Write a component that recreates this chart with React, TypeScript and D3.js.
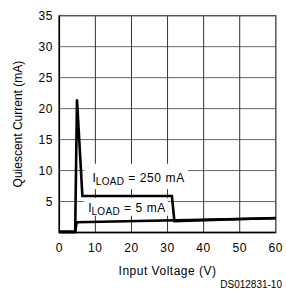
import React, { useEffect, useRef } from 'react';
import * as d3 from 'd3';

// curve data (V, mA)
const load250Volts = [0, 4.4, 4.9, 6.4, 31.2, 31.9, 60];
const load250Amps = [0.1, 0.1, 21.5, 5.9, 5.9, 1.85, 2.35];
const load5Volts = [0, 4.4, 4.8, 60];
const load5Amps = [0.1, 0.1, 1.65, 2.3];

const xTicks = [0, 10, 20, 30, 40, 50, 60];
const yTicks = [5, 10, 15, 20, 25, 30, 35];

const labels = [
  { text: '= 250 mA', x: 9.2, y: 8.2, boxX0: 6.9, boxX1: 35.7, boxY0: 7.0, boxY1: 11.1 },
  { text: '= 5 mA', x: 8.0, y: 3.3, boxX0: 6.9, boxX1: 30.1, boxY0: 2.7, boxY1: 5.6 },
];

const W = 286;
const H = 289;
const FONT = '"Liberation Sans", Arial, sans-serif';

const App: React.FC = () => {
  const svgRef = useRef<SVGSVGElement | null>(null);

  useEffect(() => {
    const svgEl = svgRef.current;
    if (!svgEl) return;
    const svg = d3.select(svgEl);
    svg.selectAll('*').remove();

    const x = d3.scaleLinear().domain([0, 60]).range([59.3, 275.8]);
    const y = d3.scaleLinear().domain([0, 35]).range([232.5, 15.7]);

    svg.append('rect').attr('width', W).attr('height', H).attr('fill', '#fff');

    // grid
    svg.append('g').selectAll('line')
      .data(yTicks.slice(0, -1)).enter().append('line')
      .attr('x1', x(0)).attr('x2', x(60))
      .attr('y1', (d) => y(d)).attr('y2', (d) => y(d))
      .attr('stroke', '#666').attr('stroke-width', 1);
    svg.append('g').selectAll('line')
      .data(xTicks.slice(1, -1)).enter().append('line')
      .attr('y1', y(0)).attr('y2', y(35))
      .attr('x1', (d) => x(d)).attr('x2', (d) => x(d))
      .attr('stroke', '#333').attr('stroke-width', 1);

    // white boxes behind the curve labels
    svg.append('g').selectAll('rect')
      .data(labels).enter().append('rect')
      .attr('x', (d) => x(d.boxX0))
      .attr('y', (d) => y(d.boxY1))
      .attr('width', (d) => x(d.boxX1) - x(d.boxX0))
      .attr('height', (d) => y(d.boxY0) - y(d.boxY1))
      .attr('fill', '#fff');

    // frame
    svg.append('rect')
      .attr('x', x(0)).attr('y', y(35))
      .attr('width', x(60) - x(0)).attr('height', y(0) - y(35))
      .attr('fill', 'none').attr('stroke', '#555').attr('stroke-width', 1.5);
    svg.append('path')
      .attr('d', `M${x(0)},${y(35)} L${x(0)},${y(0)} L${x(60)},${y(0)}`)
      .attr('fill', 'none').attr('stroke', '#000').attr('stroke-width', 1.5);

    // curves
    const line = d3.line<[number, number]>().x((d) => x(d[0])).y((d) => y(d[1]));
    const series = [
      d3.zip(load5Volts, load5Amps) as [number, number][],
      d3.zip(load250Volts, load250Amps) as [number, number][],
    ];
    svg.append('g').selectAll('path')
      .data(series).enter().append('path')
      .attr('d', (d) => line(d))
      .attr('fill', 'none').attr('stroke', '#000')
      .attr('stroke-width', 2.6).attr('stroke-linejoin', 'miter');

    // curve labels
    labels.forEach((l) => {
      const t = svg.append('text')
        .attr('x', x(l.x)).attr('y', y(l.y))
        .attr('font-family', FONT).attr('font-size', 12).attr('fill', '#000');
      t.append('tspan').text('I');
      t.append('tspan').attr('dy', 3).attr('font-size', 10).attr('letter-spacing', 0.3).text('LOAD');
      t.append('tspan').attr('dy', -3).attr('dx', 4).attr('letter-spacing', 0.6).text(l.text);
    });

    // tick labels
    svg.append('g').selectAll('text')
      .data(yTicks).enter().append('text')
      .attr('x', 53).attr('y', (d) => y(d) + 4.5)
      .attr('text-anchor', 'end')
      .attr('font-family', FONT).attr('font-size', 12).attr('letter-spacing', 0.6)
      .text((d) => d);
    svg.append('g').selectAll('text')
      .data(xTicks).enter().append('text')
      .attr('x', (d) => x(d)).attr('y', 252)
      .attr('text-anchor', 'middle')
      .attr('font-family', FONT).attr('font-size', 12).attr('letter-spacing', 0.6)
      .text((d) => d);

    // axis titles
    svg.append('text')
      .attr('x', (x(0) + x(60)) / 2).attr('y', 275)
      .attr('text-anchor', 'middle')
      .attr('font-family', FONT).attr('font-size', 12).attr('letter-spacing', 0.5)
      .text('Input Voltage (V)');
    svg.append('text')
      .attr('transform', `translate(22, ${(y(0) + y(35)) / 2}) rotate(-90)`)
      .attr('text-anchor', 'middle')
      .attr('font-family', FONT).attr('font-size', 12)
      .text('Quiescent Current (mA)');
    svg.append('text')
      .attr('x', 282).attr('y', 288)
      .attr('text-anchor', 'end')
      .attr('font-family', FONT).attr('font-size', 10)
      .text('DS012831-10');
  }, []);

  return (
    <svg
      ref={svgRef}
      width={W}
      height={H}
      style={{ position: 'absolute', left: 0, top: 0, display: 'block' }}
    ></svg>
  );
};

export default App;
